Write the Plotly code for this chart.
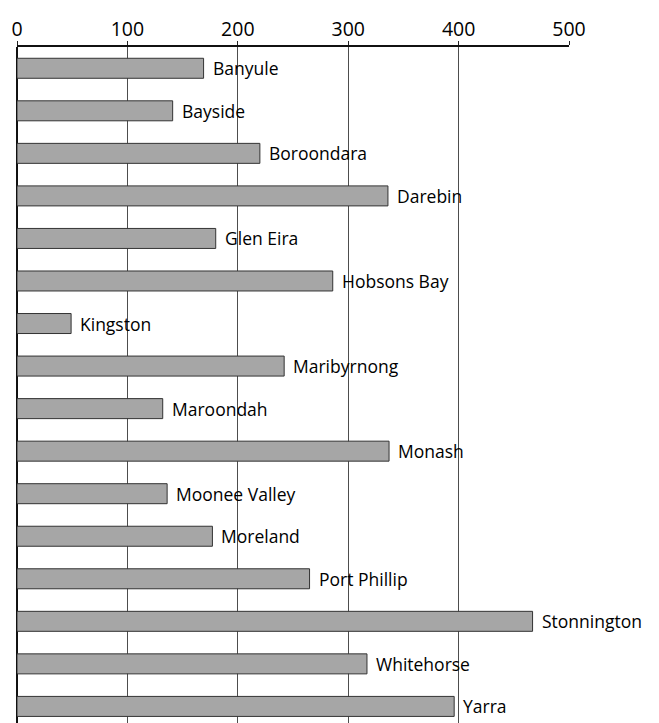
import plotly.graph_objects as go

councils = ["Banyule", "Bayside", "Boroondara", "Darebin", "Glen Eira", "Hobsons Bay",
            "Kingston", "Maribyrnong", "Maroondah", "Monash", "Moonee Valley", "Moreland",
            "Port Phillip", "Stonnington", "Whitehorse", "Yarra"]
values = [169, 141, 220, 336, 180, 286, 49, 242, 132, 337, 136, 177, 265, 467, 317, 396]
tick_vals = [0, 100, 200, 300, 400, 500]

FONT = "Open Sans"

fig = go.Figure()
fig.add_trace(go.Bar(
    y=councils, x=values, orientation="h",
    marker=dict(color="#a6a6a6", line=dict(color="#333333", width=1)),
    width=0.47, hoverinfo="skip",
))

for c, v in zip(councils, values):
    fig.add_annotation(x=v, y=c, text=c, showarrow=False, xanchor="left",
                       xshift=7, font=dict(family=FONT, size=17.5, color="#000000"))

fig.update_layout(
    width=659, height=723,
    margin=dict(l=16.5, r=90.3, t=46.5, b=0, autoexpand=False),
    paper_bgcolor="white", plot_bgcolor="white",
    showlegend=False,
    font=dict(family=FONT, size=18, color="#000000"),
)
fig.update_xaxes(
    side="top", range=[0, 500], tickvals=tick_vals, ticktext=[str(t) for t in tick_vals],
    ticks="outside", ticklen=4, tickcolor="#222222",
    showline=True, linecolor="#111111", linewidth=1.5,
    showgrid=True, gridcolor="#4d4d4d", gridwidth=1,
    zeroline=True, zerolinecolor="#111111", zerolinewidth=1.5,
    tickfont=dict(family=FONT, size=19.5, color="#000000"),
    ticklabelstandoff=-3,
    automargin=False, fixedrange=True,
)
fig.update_yaxes(
    range=[15.39, -0.5], showticklabels=False, showgrid=False, ticks="",
    showline=False, zeroline=False, automargin=False, fixedrange=True,
)

fig.write_html("out.html", config={"displayModeBar": False},
               post_script="document.body.style.margin='0';document.body.style.overflow='hidden';")
